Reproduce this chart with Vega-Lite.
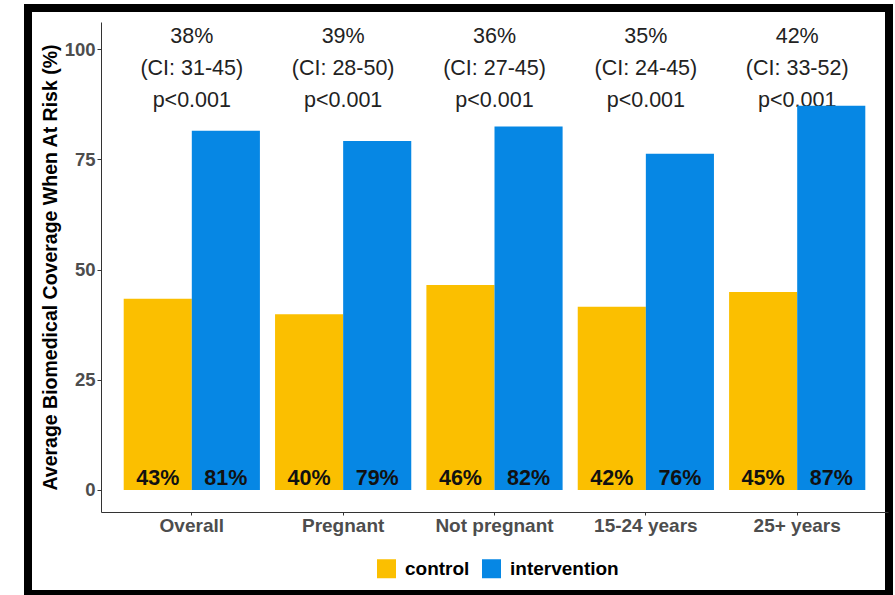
{
  "$schema": "https://vega.github.io/schema/vega-lite/v6.json",
  "width": 861,
  "height": 586,
  "autosize": {"type": "none"},
  "padding": {"left": 28, "top": 8, "right": 6, "bottom": 1},
  "background": "white",
  "config": {
    "view": {"stroke": "black", "strokeWidth": 8, "fill": "white"},
    "font": "Liberation Sans"
  },
  "datasets": {
    "bars": [
      {"group": "Overall", "arm": "control", "value": 43.4, "label": "43%"},
      {"group": "Overall", "arm": "intervention", "value": 81.5, "label": "81%"},
      {"group": "Pregnant", "arm": "control", "value": 39.9, "label": "40%"},
      {"group": "Pregnant", "arm": "intervention", "value": 79.2, "label": "79%"},
      {"group": "Not pregnant", "arm": "control", "value": 46.5, "label": "46%"},
      {"group": "Not pregnant", "arm": "intervention", "value": 82.5, "label": "82%"},
      {"group": "15-24 years", "arm": "control", "value": 41.6, "label": "42%"},
      {"group": "15-24 years", "arm": "intervention", "value": 76.3, "label": "76%"},
      {"group": "25+ years", "arm": "control", "value": 44.9, "label": "45%"},
      {"group": "25+ years", "arm": "intervention", "value": 87.2, "label": "87%"}
    ],
    "ann": [
      {"group": "Overall", "note": "38%\n(CI: 31-45)\np<0.001"},
      {"group": "Pregnant", "note": "39%\n(CI: 28-50)\np<0.001"},
      {"group": "Not pregnant", "note": "36%\n(CI: 27-45)\np<0.001"},
      {"group": "15-24 years", "note": "35%\n(CI: 24-45)\np<0.001"},
      {"group": "25+ years", "note": "42%\n(CI: 33-52)\np<0.001"}
    ]
  },
  "encoding": {
    "x": {
      "field": "group",
      "type": "nominal",
      "sort": ["Overall", "Pregnant", "Not pregnant", "15-24 years", "25+ years"],
      "scale": {"range": [73, 860], "paddingInner": 0.1, "paddingOuter": 0.15},
      "axis": {
        "title": null,
        "labelAngle": 0,
        "labelFontSize": 19,
        "labelFontWeight": "bold",
        "labelColor": "#4d4d4d",
        "tickSize": 3,
        "tickColor": "#333333",
        "labelPadding": 1,
        "domainColor": "#333333",
        "domainWidth": 1,
        "offset": -82,
        "grid": false
      }
    }
  },
  "layer": [
    {
      "data": {"name": "ann"},
      "mark": {"type": "text", "lineBreak": "\n", "lineHeight": 32, "fontSize": 21.5, "baseline": "top", "align": "center", "color": "#222222"},
      "encoding": {
        "y": {"datum": 105.4, "type": "quantitative"},
        "text": {"field": "note"}
      }
    },
    {
      "data": {"name": "bars"},
      "mark": {"type": "bar", "strokeWidth": 0},
      "encoding": {
        "xOffset": {"field": "arm", "type": "nominal", "scale": {"paddingInner": 0, "paddingOuter": 0}},
        "y": {
          "field": "value",
          "type": "quantitative",
          "scale": {"domain": [-5, 106.2], "range": [504, 14], "nice": false, "zero": false},
          "axis": {
            "values": [0, 25, 50, 75, 100],
            "grid": false,
            "domainColor": "#333333",
            "domainWidth": 1,
            "tickColor": "#333333",
            "tickSize": 4,
            "labelFontSize": 18.5,
            "labelFontWeight": "bold",
            "labelColor": "#4d4d4d",
            "labelPadding": 2,
            "title": "Average Biomedical Coverage When At Risk (%)",
            "titleFontSize": 19.5,
            "titleFontWeight": "bold",
            "titleColor": "black",
            "titlePadding": 4,
            "offset": -73
          }
        },
        "color": {
          "field": "arm",
          "type": "nominal",
          "scale": {"domain": ["control", "intervention"], "range": ["#FBBF00", "#0687E4"]},
          "legend": {
            "title": null,
            "orient": "none",
            "legendX": 349,
            "legendY": 551,
            "direction": "horizontal",
            "symbolType": "square",
            "symbolSize": 361,
            "symbolStrokeWidth": 0,
            "symbolOpacity": 1,
            "labelFontSize": 19,
            "labelFontWeight": "bold",
            "labelColor": "black",
            "labelOffset": 9,
            "columnPadding": 12,
            "padding": 0
          }
        }
      }
    },
    {
      "data": {"name": "bars"},
      "mark": {"type": "text", "fontSize": 21.5, "fontWeight": "bold", "color": "#111111", "baseline": "alphabetic", "align": "center"},
      "encoding": {
        "xOffset": {"field": "arm", "type": "nominal"},
        "y": {"datum": 1.1, "type": "quantitative"},
        "text": {"field": "label"}
      }
    }
  ]
}
